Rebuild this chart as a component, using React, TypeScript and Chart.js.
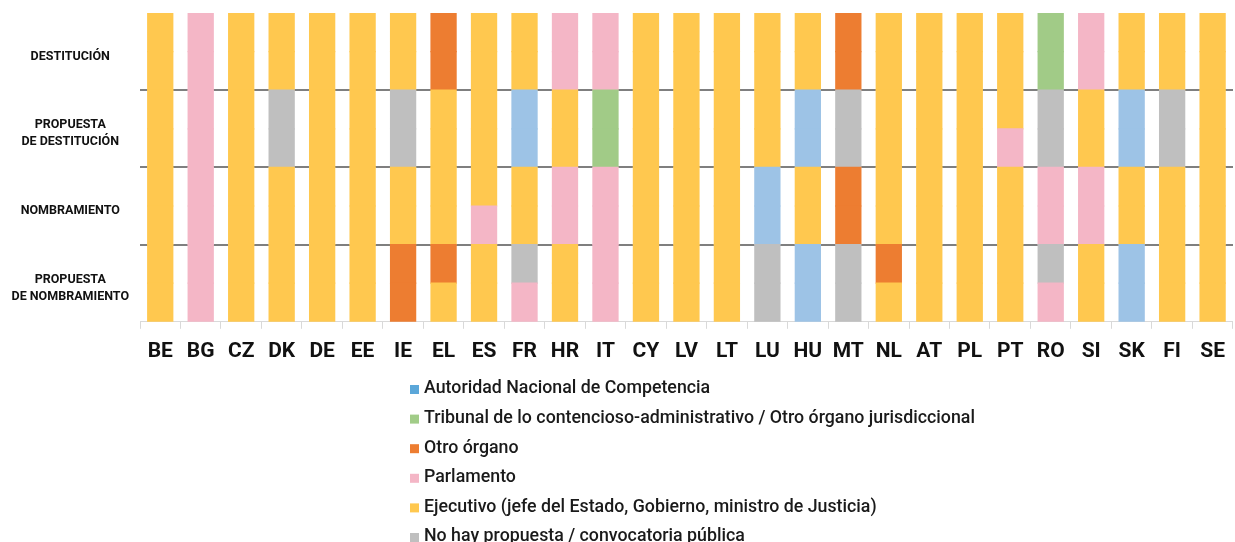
import React, { useEffect, useRef } from "react";
import { Chart, registerables } from "chart.js";
Chart.register(...registerables);

const countries = ["BE","BG","CZ","DK","DE","EE","IE","EL","ES","FR","HR","IT","CY","LV","LT","LU","HU","MT","NL","AT","PL","PT","RO","SI","SK","FI","SE"];

const stageLabels = [
  ["PROPUESTA", "DE NOMBRAMIENTO"],
  ["NOMBRAMIENTO"],
  ["PROPUESTA", "DE DESTITUCIÓN"],
  ["DESTITUCIÓN"],
];

// Authority codes per stage; "X/Y" = lower half / upper half of the stage
// A = Autoridad, T = Tribunal, O = Otro órgano, P = Parlamento, E = Ejecutivo, G = No hay propuesta
const propuestaNombramiento = ["E","P","E","E","E","E","O","E/O","E","P/G","E","P","E","E","E","G","A","G","E/O","E","E","E","P/G","E","A","E","E"];
const nombramiento = ["E","P","E","E","E","E","E","E","P/E","E","P","P","E","E","E","A","E","O","E","E","E","E","P","P","E","E","E"];
const propuestaDestitucion = ["E","P","E","G","E","E","G","E","E","A","E","T","E","E","E","E","A","G","E","E","E","P/E","G","E","A","G","E"];
const destitucion = ["E","P","E","E","E","E","E","O","E","E","P","P","E","E","E","E","E","O","E","E","E","E","T","P","E","E","E"];

const halfShare = [0.5, 0.5];
const stageCentres = [0.5, 1.5, 2.5, 3.5];
const stageBounds = [1, 2, 3];

const legendKeys = ["A","T","O","P","E","G"];
const legendLabels = [
  "Autoridad Nacional de Competencia",
  "Tribunal de lo contencioso-administrativo / Otro órgano jurisdiccional",
  "Otro órgano",
  "Parlamento",
  "Ejecutivo (jefe del Estado, Gobierno, ministro de Justicia)",
  "No hay propuesta / convocatoria pública",
];

const barColors: Record<string, string> = {
  A: "#9DC3E6", T: "#A1CB87", O: "#ED7D31", P: "#F4B6C6", E: "#FFC84F", G: "#BFBFBF",
};
const legendColors: Record<string, string> = {
  A: "#5BA7D9", T: "#A1CC88", O: "#ED7D31", P: "#F4B6C6", E: "#FFC84F", G: "#BFBFBF",
};

const stages = [propuestaNombramiento, nombramiento, propuestaDestitucion, destitucion];

function part(code: string, h: number) {
  const p = code.split("/");
  return p[Math.min(h, p.length - 1)];
}

const legendPlugin = {
  id: "vlegend",
  afterDraw(chart: any) {
    const ctx = chart.ctx;
    const left = 410;
    const top = chart.height - 153;
    const step = 29.6;
    ctx.save();
    ctx.font = "500 17.8px Roboto";
    ctx.textBaseline = "middle";
    ctx.textAlign = "left";
    legendKeys.forEach((k, i) => {
      const y = top + i * step;
      ctx.fillStyle = legendColors[k];
      ctx.fillRect(left, y - 4, 9, 9);
      ctx.fillStyle = "#1a1a1a";
      ctx.fillText(legendLabels[i], left + 14, y);
    });
    ctx.restore();
  },
};

export default function App() {
  const ref = useRef<HTMLCanvasElement>(null);
  useEffect(() => {
    document.body.style.margin = "0";
    const datasets: any[] = [];
    stages.forEach((codes, s) => {
      halfShare.forEach((share, h) => {
        datasets.push({
          label: `s${s}h${h}`,
          data: countries.map(() => share),
          backgroundColor: codes.map((c) => barColors[part(c, h)]),
          borderWidth: 0,
          inflateAmount: 0.6,
          barPercentage: 0.62,
          categoryPercentage: 1,
          yAxisID: "y",
        });
      });
    });
    const chart = new Chart(ref.current!, {
      type: "bar",
      data: { labels: countries, datasets },
      options: {
        animation: false,
        responsive: false,
        layout: { padding: { top: 13, right: 1, bottom: 168, left: 0 } },
        plugins: { legend: { display: false }, tooltip: { enabled: false } },
        scales: {
          x: {
            stacked: true,
            grid: { offset: true, drawOnChartArea: false, color: "#d9d9d9", tickLength: 7 },
            border: { color: "#d9d9d9", width: 1 },
            ticks: { font: { family: "Roboto", size: 21, weight: "bold" }, color: "#111", padding: 10 },
          },
          y: {
            stacked: true,
            min: 0,
            max: 4,
            position: "left",
            grid: { display: false, drawTicks: false },
            border: { display: false },
            afterBuildTicks: (scale: any) => {
              scale.ticks = stageCentres.map((v) => ({ value: v }));
            },
            afterFit: (scale: any) => {
              scale.width = 140;
              scale.paddingTop = 0;
              scale.paddingBottom = 0;
            },
            ticks: {
              crossAlign: "center",
              padding: 11,
              labelOffset: 5,
              color: "#111",
              font: { family: "Roboto", size: 12.5, weight: "bold", lineHeight: 1.36 },
              callback: (v: any) => stageLabels[stageCentres.indexOf(Number(v))] ?? "",
            },
          },
          yg: {
            position: "right",
            min: 0,
            max: 4,
            z: 1,
            grid: { color: "#7f7f7f", lineWidth: 2, drawTicks: false },
            border: { display: false },
            ticks: { display: false },
            afterBuildTicks: (scale: any) => {
              scale.ticks = stageBounds.map((v) => ({ value: v }));
            },
            afterFit: (scale: any) => {
              scale.width = 0;
              scale.paddingTop = 0;
              scale.paddingBottom = 0;
            },
          },
        },
      },
      plugins: [legendPlugin],
    });
    return () => chart.destroy();
  }, []);
  return (
    <div style={{ width: 1235, height: 542 }}>
      <canvas ref={ref} width={1235} height={542} style={{ display: "block" }} />
    </div>
  );
}
